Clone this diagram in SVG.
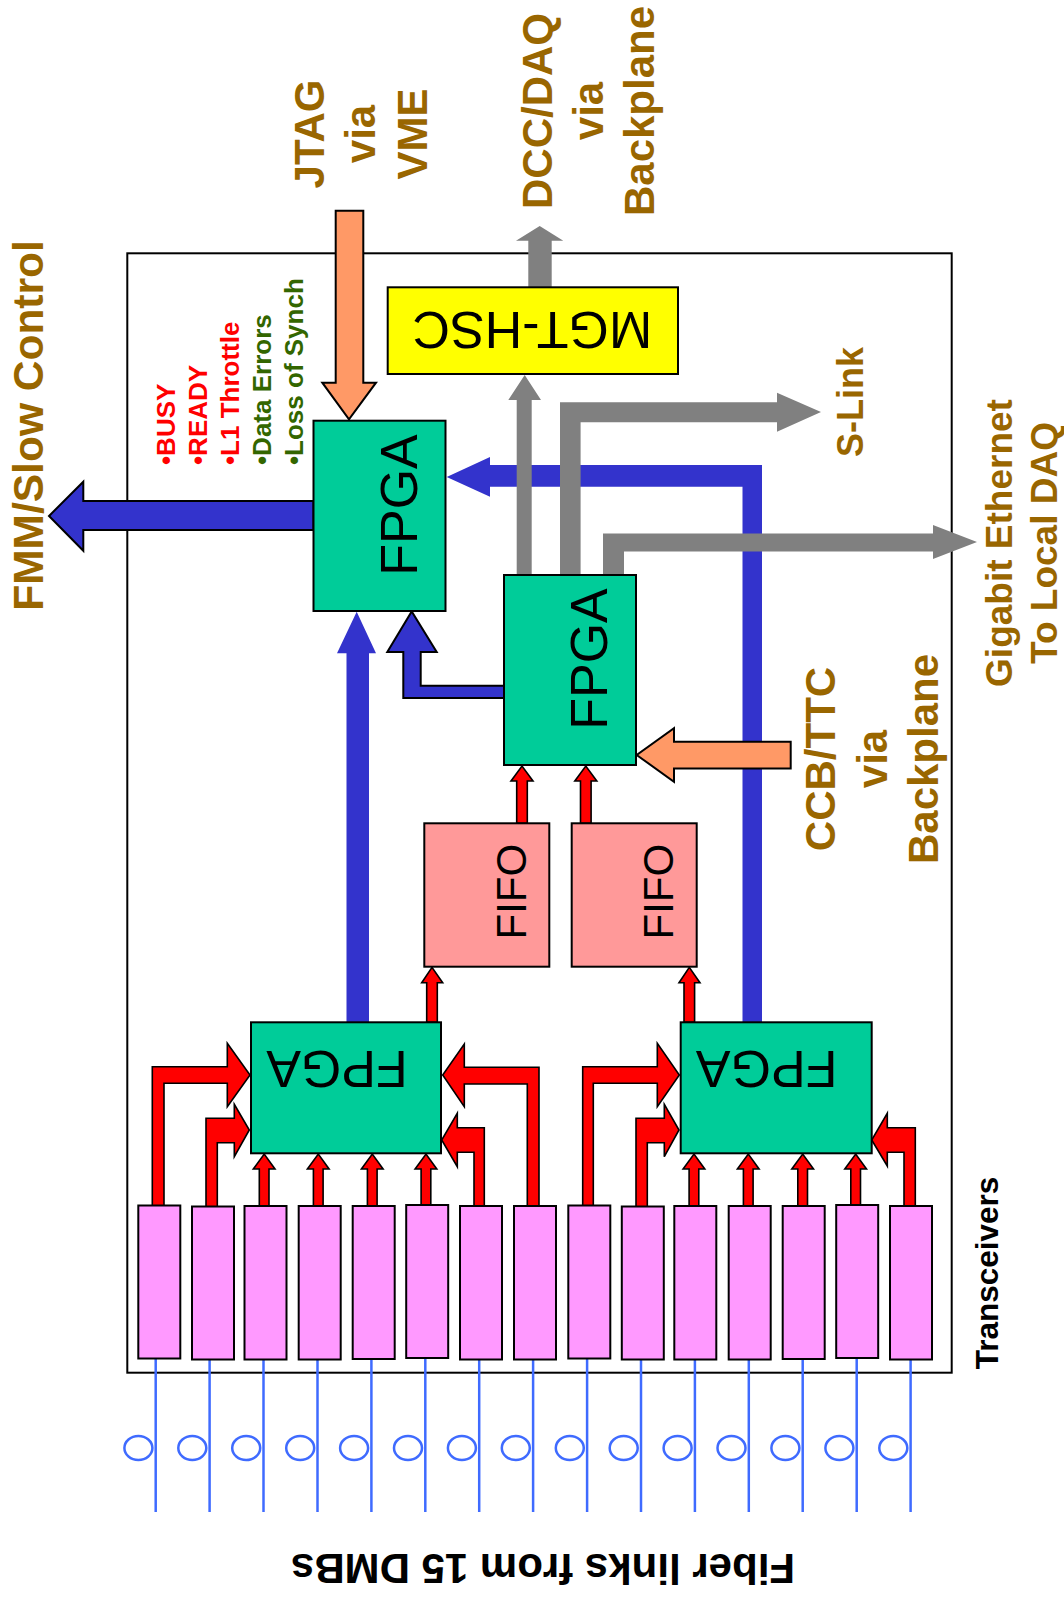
<svg xmlns="http://www.w3.org/2000/svg" width="1064" height="1598" viewBox="0 0 1064 1598">
<style>
.lbl{font-family:"Liberation Sans",Arial,sans-serif;font-weight:bold;fill:#996600;text-anchor:middle}
.box{font-family:"Liberation Sans",Arial,sans-serif;font-size:52px;fill:#000;text-anchor:middle}
.st{font-family:"Liberation Sans",Arial,sans-serif;font-weight:bold;font-size:26px}
.fpga{fill:#00CC99;stroke:#000;stroke-width:2}
.fifo{fill:#FF9999;stroke:#000;stroke-width:2}
.tr{fill:#FF99FF;stroke:#000;stroke-width:2}
.red{fill:#FF0000;stroke:#000;stroke-width:1.6;stroke-linejoin:miter}
.blue{fill:#3333CC}
.blues{fill:#3333CC;stroke:#000;stroke-width:2}
.gray{fill:#808080}
.orange{fill:#FF9966;stroke:#000;stroke-width:2}
.fiber{stroke:#3F6BFF;stroke-width:2.5;fill:none}
</style>

<!-- outer board -->
<rect id="board" x="127.3" y="253.3" width="824.4" height="1119.4" fill="#fff" stroke="#000" stroke-width="2"/>

<g id="connectors">
  <!-- fibers -->
  <g class="fiber">
    <line x1="155.7" y1="1358" x2="155.7" y2="1512"/><ellipse cx="138.4" cy="1448" rx="14" ry="12"/>
    <line x1="209.6" y1="1358" x2="209.6" y2="1512"/><ellipse cx="192.3" cy="1448" rx="14" ry="12"/>
    <line x1="263.5" y1="1358" x2="263.5" y2="1512"/><ellipse cx="246.2" cy="1448" rx="14" ry="12"/>
    <line x1="317.5" y1="1358" x2="317.5" y2="1512"/><ellipse cx="300.2" cy="1448" rx="14" ry="12"/>
    <line x1="371.4" y1="1358" x2="371.4" y2="1512"/><ellipse cx="354.1" cy="1448" rx="14" ry="12"/>
    <line x1="425.3" y1="1358" x2="425.3" y2="1512"/><ellipse cx="408.0" cy="1448" rx="14" ry="12"/>
    <line x1="479.2" y1="1358" x2="479.2" y2="1512"/><ellipse cx="461.9" cy="1448" rx="14" ry="12"/>
    <line x1="533.1" y1="1358" x2="533.1" y2="1512"/><ellipse cx="515.8" cy="1448" rx="14" ry="12"/>
    <line x1="587.1" y1="1358" x2="587.1" y2="1512"/><ellipse cx="569.8" cy="1448" rx="14" ry="12"/>
    <line x1="641.0" y1="1358" x2="641.0" y2="1512"/><ellipse cx="623.7" cy="1448" rx="14" ry="12"/>
    <line x1="694.9" y1="1358" x2="694.9" y2="1512"/><ellipse cx="677.6" cy="1448" rx="14" ry="12"/>
    <line x1="748.8" y1="1358" x2="748.8" y2="1512"/><ellipse cx="731.5" cy="1448" rx="14" ry="12"/>
    <line x1="802.7" y1="1358" x2="802.7" y2="1512"/><ellipse cx="785.4" cy="1448" rx="14" ry="12"/>
    <line x1="856.7" y1="1358" x2="856.7" y2="1512"/><ellipse cx="839.4" cy="1448" rx="14" ry="12"/>
    <line x1="910.6" y1="1358" x2="910.6" y2="1512"/><ellipse cx="893.3" cy="1448" rx="14" ry="12"/>
  </g>

  <!-- blue paths -->
  <path class="blue" d="M346.5,1022.5 L346.5,653.3 L337,653.3 L356.7,611.7 L376,653.3 L369,653.3 L369,1022.5 Z"/>
  <path class="blue" d="M742.5,1022.5 L742.5,486.7 L490,486.7 L490,496.7 L446.7,477 L490,457 L490,465 L762,465 L762,1022.5 Z"/>
  <path class="blues" d="M313.5,501 L83.3,501 L83.3,481.7 L49,516 L83.3,550.7 L83.3,530 L313.5,530 Z"/>
  <path class="blues" d="M504,685.7 L420.7,685.7 L420.7,652 L436.7,652 L411.7,611.5 L387.3,652 L403.3,652 L403.3,698 L504,698 Z"/>

  <!-- gray paths -->
  <path class="gray" d="M528.3,287.3 L528.3,240.7 L516,240.7 L539.7,226 L563.3,240.7 L551.7,240.7 L551.7,287.3 Z"/>
  <path class="gray" d="M516.7,575 L516.7,400 L508.3,400 L524.7,375 L541,400 L531.7,400 L531.7,575 Z"/>
  <path class="gray" d="M560,575 L560,402.3 L777,402.3 L777,392.7 L821,412 L777,431.7 L777,422.3 L580.6,422.3 L580.6,575 Z"/>
  <path class="gray" d="M603,575 L603,533.5 L933,533.5 L933,525 L977,542 L933,559 L933,551.5 L624,551.5 L624,575 Z"/>

  <!-- orange -->
  <path class="orange" d="M335.7,210.7 L363.3,210.7 L363.3,382.7 L376,382.7 L349,419.3 L322.3,382.7 L335.7,382.7 Z"/>
  <path class="orange" d="M790.7,741.7 L674,741.7 L674,728.3 L636.7,755 L674,781.7 L674,768.5 L790.7,768.5 Z"/>

  <!-- red: FIFO <-> FPGA -->
  <path class="red" d="M516.7,823.3 L516.7,781 L511,781 L522,766 L533,781 L527.3,781 L527.3,823.3 Z"/>
  <path class="red" d="M580.5,823.3 L580.5,781 L574.8,781 L585.8,766 L596.8,781 L591.1,781 L591.1,823.3 Z"/>
  <path class="red" d="M426.7,1022.3 L426.7,982.7 L421.7,982.7 L432,967.3 L442.7,982.7 L437.3,982.7 L437.3,1022.3 Z"/>
  <path class="red" d="M684,1022.3 L684,982.7 L679,982.7 L689.3,967.3 L700,982.7 L694.6,982.7 L694.6,1022.3 Z"/>

  <!-- red: left group transceivers -> FPGA -->
  <path class="red" d="M152.3,1206 L152.3,1066.7 L227.3,1066.7 L227.3,1043.3 L250,1075 L227.3,1106.7 L227.3,1083.3 L164,1083.3 L164,1206 Z"/>
  <path class="red" d="M206,1207 L206,1118.3 L234.3,1118.3 L234.3,1104.3 L249.3,1130 L234.3,1156.7 L234.3,1142.7 L217.3,1142.7 L217.3,1207 Z"/>
  <path class="red" d="M259.3,1206 L259.3,1169 L253.3,1169 L264.2,1154 L275,1169 L269,1169 L269,1206 Z"/>
  <path class="red" d="M313.4,1206 L313.4,1169 L307.4,1169 L318.3,1154 L329.1,1169 L323.1,1169 L323.1,1206 Z"/>
  <path class="red" d="M367.4,1206 L367.4,1169 L361.4,1169 L372.3,1154 L383.1,1169 L377.1,1169 L377.1,1206 Z"/>
  <path class="red" d="M421.1,1205 L421.1,1169 L415.1,1169 L426,1154 L436.8,1169 L430.8,1169 L430.8,1205 Z"/>
  <path class="red" d="M484.3,1206 L484.3,1127.7 L457.3,1127.7 L457.3,1113.3 L441.7,1140 L457.3,1166.7 L457.3,1152.3 L474,1152.3 L474,1206 Z"/>
  <path class="red" d="M539,1206 L539,1067.3 L464.3,1067.3 L464.3,1044 L442.7,1075 L464.3,1106.7 L464.3,1084 L527.3,1084 L527.3,1206 Z"/>

  <!-- red: right group transceivers -> FPGA -->
  <path class="red" d="M582.7,1206 L582.7,1066.7 L657.3,1066.7 L657.3,1043.3 L679.3,1075 L657.3,1106.7 L657.3,1083.3 L593.3,1083.3 L593.3,1206 Z"/>
  <path class="red" d="M636,1207 L636,1118.3 L664.3,1118.3 L664.3,1104.3 L679,1130 L664.3,1156.7 L664.3,1142.7 L647.3,1142.7 L647.3,1207 Z"/>
  <path class="red" d="M689.1,1206 L689.1,1169 L683.1,1169 L694,1154 L704.8,1169 L698.8,1169 L698.8,1206 Z"/>
  <path class="red" d="M743.4,1206 L743.4,1169 L737.4,1169 L748.3,1154 L759.1,1169 L753.1,1169 L753.1,1206 Z"/>
  <path class="red" d="M797.8,1206 L797.8,1169 L791.8,1169 L802.7,1154 L813.5,1169 L807.5,1169 L807.5,1206 Z"/>
  <path class="red" d="M850.8,1205 L850.8,1169 L844.8,1169 L855.7,1154 L866.5,1169 L860.5,1169 L860.5,1205 Z"/>
  <path class="red" d="M915.3,1206 L915.3,1127.7 L887.3,1127.7 L887.3,1113.3 L871.7,1140 L887.3,1166 L887.3,1152.3 L904,1152.3 L904,1206 Z"/>
</g>

<!-- nodes -->
<g id="fpga-top"><rect class="fpga" x="313.5" y="420.7" width="132" height="190.3"/>
  <text class="box" transform="translate(416.7,505) rotate(-90)">FPGA</text></g>
<g id="fpga-mid"><rect class="fpga" x="504" y="575" width="132" height="190"/>
  <text class="box" transform="translate(607.3,659) rotate(-90)">FPGA</text></g>
<g id="mgt-hsc"><rect x="387.7" y="287.3" width="290.3" height="86.7" fill="#FFFF00" stroke="#000" stroke-width="2"/>
  <text class="box" transform="translate(532.3,311.7) rotate(180)">MGT-HSC</text></g>
<g id="fifo-1"><rect class="fifo" x="424.3" y="823.3" width="125" height="143.4"/>
  <text class="box" style="font-size:42px" transform="translate(526,891.7) rotate(-90)">FIFO</text></g>
<g id="fifo-2"><rect class="fifo" x="571.7" y="823.3" width="125" height="143.4"/>
  <text class="box" style="font-size:42px" transform="translate(673.3,891.7) rotate(-90)">FIFO</text></g>
<g id="fpga-left"><rect class="fpga" x="251" y="1022.3" width="190" height="131"/>
  <text class="box" transform="translate(337,1051) rotate(180)">FPGA</text></g>
<g id="fpga-right"><rect class="fpga" x="680.7" y="1022.3" width="191" height="131"/>
  <text class="box" transform="translate(766.7,1051) rotate(180)">FPGA</text></g>

<g id="transceivers">
  <rect class="tr" x="138.3" y="1205.5" width="42" height="153"/>
  <rect class="tr" x="192" y="1206.5" width="42" height="153"/>
  <rect class="tr" x="244.5" y="1206" width="42" height="153.5"/>
  <rect class="tr" x="298.7" y="1206" width="42" height="153.5"/>
  <rect class="tr" x="352.7" y="1206" width="42" height="153"/>
  <rect class="tr" x="406.2" y="1205" width="42" height="153"/>
  <rect class="tr" x="460" y="1206" width="42" height="153.5"/>
  <rect class="tr" x="514" y="1206" width="42" height="153.5"/>
  <rect class="tr" x="568.3" y="1205.5" width="42" height="153"/>
  <rect class="tr" x="621.8" y="1206.5" width="42" height="153"/>
  <rect class="tr" x="674.3" y="1206" width="42" height="153.5"/>
  <rect class="tr" x="728.7" y="1206" width="42" height="153.5"/>
  <rect class="tr" x="782.7" y="1206" width="42" height="153"/>
  <rect class="tr" x="836.2" y="1205" width="42" height="153"/>
  <rect class="tr" x="890" y="1206" width="42" height="153.5"/>
</g>

<!-- labels -->
<g id="lbl-fmm"><text class="lbl" font-size="42.5" transform="translate(42.5,425.5) rotate(-90)">FMM/Slow Control</text></g>
<g id="lbl-jtag">
  <text class="lbl" font-size="42" transform="translate(324,134) rotate(-90)">JTAG</text>
  <text class="lbl" font-size="42" transform="translate(375,134) rotate(-90)">via</text>
  <text class="lbl" font-size="42" transform="translate(426.7,134) rotate(-90)">VME</text>
</g>
<g id="lbl-dcc">
  <text class="lbl" font-size="42" transform="translate(551.7,111) rotate(-90)">DCC/DAQ</text>
  <text class="lbl" font-size="42" transform="translate(603.3,111) rotate(-90)">via</text>
  <text class="lbl" font-size="42" transform="translate(654,111) rotate(-90)">Backplane</text>
</g>
<g id="lbl-slink"><text class="lbl" font-size="36" transform="translate(863.3,402) rotate(-90)">S-Link</text></g>
<g id="lbl-gbe">
  <text class="lbl" font-size="37" transform="translate(1011.7,543) rotate(-90)">Gigabit Ethernet</text>
  <text class="lbl" font-size="37" transform="translate(1056.7,543) rotate(-90)">To Local DAQ</text>
</g>
<g id="lbl-ccb">
  <text class="lbl" font-size="42" transform="translate(835,759) rotate(-90)">CCB/TTC</text>
  <text class="lbl" font-size="42" transform="translate(886.7,759) rotate(-90)">via</text>
  <text class="lbl" font-size="42" transform="translate(938.3,759) rotate(-90)">Backplane</text>
</g>
<g id="status">
  <text class="st" fill="#FF0000" transform="translate(175,465) rotate(-90)">•BUSY</text>
  <text class="st" fill="#FF0000" transform="translate(207.3,465) rotate(-90)">•READY</text>
  <text class="st" fill="#FF0000" transform="translate(239,465) rotate(-90)">•L1 Throttle</text>
  <text class="st" fill="#336600" transform="translate(270.7,465) rotate(-90)">•Data Errors</text>
  <text class="st" fill="#336600" transform="translate(302.7,465) rotate(-90)">•Loss of Synch</text>
</g>
<g id="lbl-transceivers"><text font-family="Liberation Sans, Arial, sans-serif" font-weight="bold" font-size="31.5" text-anchor="middle" fill="#000" transform="translate(998.3,1273) rotate(-90)">Transceivers</text></g>
<g id="lbl-fiber"><text font-family="Liberation Sans, Arial, sans-serif" font-weight="bold" font-size="42" text-anchor="middle" fill="#000" transform="translate(543,1554) rotate(180)">Fiber links from 15 DMBs</text></g>
</svg>
